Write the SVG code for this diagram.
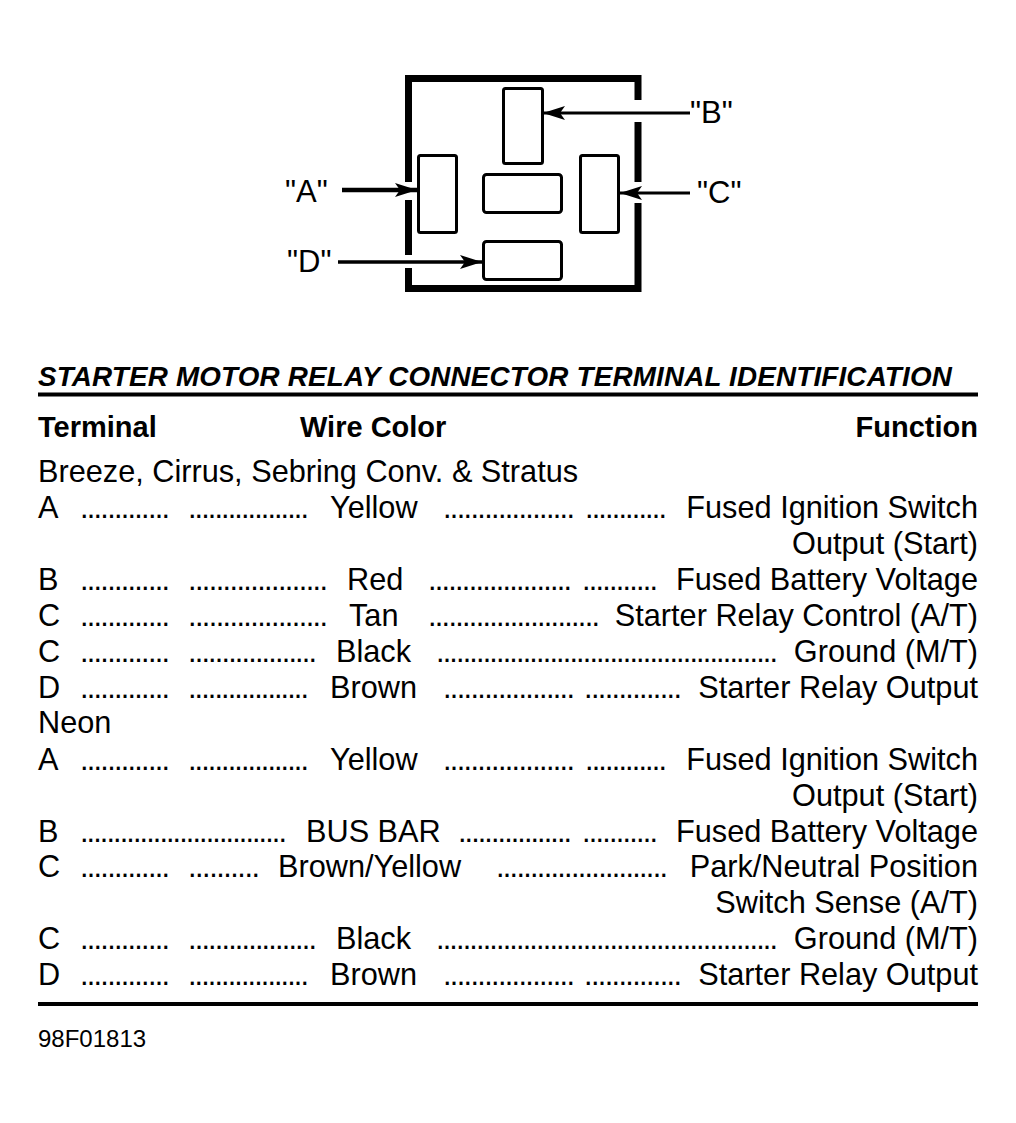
<svg xmlns="http://www.w3.org/2000/svg" width="1016" height="1123" viewBox="0 0 1016 1123">
<style>
text{font-family:"Liberation Sans",Arial,Helvetica,sans-serif;fill:#000}
.b{font-size:30.7px}
.lbl{font-size:31px}
.h{font-size:29px;font-weight:bold}
.t{font-size:27.8px;font-weight:bold;font-style:italic;letter-spacing:0.19px}
.r{text-anchor:end}
.term{fill:#fff;stroke:#000;stroke-width:3}
.conn{stroke:#000;fill:none}
</style>
<defs>
<marker id="ah" markerUnits="userSpaceOnUse" markerWidth="22" markerHeight="14" viewBox="0 0 22 14" refX="22" refY="7" orient="auto">
<path d="M0,0 L22,7 L0,14 L5,7 z" fill="#000"/>
</marker>
</defs>
<rect width="1016" height="1123" fill="#fff"/>

<g id="housing">
<path d="M408.5,182 V78.5 H638 V100 M638,122 V182 M638,203 V288.5 H408.5 V268 M408.5,255 V200" fill="none" stroke="#000" stroke-width="7" stroke-linejoin="miter"/>
</g>
<g id="terminal-B"><rect class="term" x="503.5" y="88.5" width="39" height="75" rx="2"/></g>
<g id="terminal-A"><rect class="term" x="418.5" y="155.5" width="38" height="77" rx="2"/></g>
<g id="terminal-center"><rect class="term" x="483.5" y="174.5" width="78" height="38" rx="3"/></g>
<g id="terminal-C"><rect class="term" x="580.5" y="155.5" width="38" height="77" rx="2"/></g>
<g id="terminal-D"><rect class="term" x="483.5" y="241.5" width="78" height="38" rx="3"/></g>

<g id="connectors">
<line class="conn" x1="690" y1="113" x2="543" y2="113" stroke-width="3" marker-end="url(#ah)"/>
<line class="conn" x1="690" y1="193" x2="620" y2="193" stroke-width="3" marker-end="url(#ah)"/>
<line class="conn" x1="342" y1="190" x2="417" y2="190" stroke-width="4.5" marker-end="url(#ah)"/>
<line class="conn" x1="338" y1="262" x2="482" y2="262" stroke-width="3.5" marker-end="url(#ah)"/>
</g>

<g id="labels">
<text class="lbl" x="690" y="123">"B"</text>
<text class="lbl" x="697" y="203">"C"</text>
<text class="lbl" x="285" y="202">"A"</text>
<text class="lbl" x="287" y="272">"D"</text>
</g>

<g id="table">
<text class="t" x="38" y="386">STARTER MOTOR RELAY CONNECTOR TERMINAL IDENTIFICATION</text>
<line x1="38" y1="394.5" x2="978" y2="394.5" stroke="#000" stroke-width="4"/>
<text class="h" x="38" y="437">Terminal</text>
<text class="h" x="300" y="437">Wire Color</text>
<text class="h r" x="978" y="437">Function</text>

<text class="b" x="38" y="482">Breeze, Cirrus, Sebring Conv. &amp; Stratus</text>

<g id="row-a1">
<text class="b" x="38" y="518">A</text>
<text class="b" x="80" y="518" textLength="90">.............</text>
<text class="b" x="188" y="518" textLength="121">..................</text>
<text class="b" x="330" y="518">Yellow</text>
<text class="b" x="443" y="518" textLength="132">...................</text>
<text class="b" x="585" y="518" textLength="82">............</text>
<text class="b r" x="978" y="518">Fused Ignition Switch</text>
<text class="b r" x="978" y="554">Output (Start)</text>
</g>
<g id="row-b1">
<text class="b" x="38" y="590">B</text>
<text class="b" x="80" y="590" textLength="90">.............</text>
<text class="b" x="188" y="590" textLength="140">....................</text>
<text class="b" x="347" y="590">Red</text>
<text class="b" x="428" y="590" textLength="144">.....................</text>
<text class="b" x="582" y="590" textLength="76">...........</text>
<text class="b r" x="978" y="590">Fused Battery Voltage</text>
</g>
<g id="row-c1">
<text class="b" x="38" y="626">C</text>
<text class="b" x="80" y="626" textLength="90">.............</text>
<text class="b" x="188" y="626" textLength="140">....................</text>
<text class="b" x="349" y="626">Tan</text>
<text class="b" x="428" y="626" textLength="172">.........................</text>
<text class="b r" x="978" y="626">Starter Relay Control (A/T)</text>
</g>
<g id="row-c2">
<text class="b" x="38" y="662">C</text>
<text class="b" x="80" y="662" textLength="90">.............</text>
<text class="b" x="188" y="662" textLength="129">...................</text>
<text class="b" x="336" y="662">Black</text>
<text class="b" x="436" y="662" textLength="342">...................................................</text>
<text class="b r" x="978" y="662">Ground (M/T)</text>
</g>
<g id="row-d1">
<text class="b" x="38" y="698">D</text>
<text class="b" x="80" y="698" textLength="90">.............</text>
<text class="b" x="188" y="698" textLength="121">..................</text>
<text class="b" x="330" y="698">Brown</text>
<text class="b" x="443" y="698" textLength="132">...................</text>
<text class="b" x="584" y="698" textLength="98">..............</text>
<text class="b r" x="978" y="698">Starter Relay Output</text>
</g>

<text class="b" x="38" y="733">Neon</text>

<g id="row-a2">
<text class="b" x="38" y="770">A</text>
<text class="b" x="80" y="770" textLength="90">.............</text>
<text class="b" x="188" y="770" textLength="121">..................</text>
<text class="b" x="330" y="770">Yellow</text>
<text class="b" x="443" y="770" textLength="132">...................</text>
<text class="b" x="585" y="770" textLength="82">............</text>
<text class="b r" x="978" y="770">Fused Ignition Switch</text>
<text class="b r" x="978" y="806">Output (Start)</text>
</g>
<g id="row-b2">
<text class="b" x="38" y="842">B</text>
<text class="b" x="80" y="842" textLength="207">...............................</text>
<text class="b" x="306" y="842">BUS BAR</text>
<text class="b" x="458" y="842" textLength="114">.................</text>
<text class="b" x="582" y="842" textLength="76">...........</text>
<text class="b r" x="978" y="842">Fused Battery Voltage</text>
</g>
<g id="row-c3">
<text class="b" x="38" y="877">C</text>
<text class="b" x="80" y="877" textLength="90">.............</text>
<text class="b" x="188" y="877" textLength="72">..........</text>
<text class="b" x="278" y="877">Brown/Yellow</text>
<text class="b" x="496" y="877" textLength="172">.........................</text>
<text class="b r" x="978" y="877">Park/Neutral Position</text>
<text class="b r" x="978" y="913">Switch Sense (A/T)</text>
</g>
<g id="row-c4">
<text class="b" x="38" y="949">C</text>
<text class="b" x="80" y="949" textLength="90">.............</text>
<text class="b" x="188" y="949" textLength="129">...................</text>
<text class="b" x="336" y="949">Black</text>
<text class="b" x="436" y="949" textLength="342">...................................................</text>
<text class="b r" x="978" y="949">Ground (M/T)</text>
</g>
<g id="row-d2">
<text class="b" x="38" y="985">D</text>
<text class="b" x="80" y="985" textLength="90">.............</text>
<text class="b" x="188" y="985" textLength="121">..................</text>
<text class="b" x="330" y="985">Brown</text>
<text class="b" x="443" y="985" textLength="132">...................</text>
<text class="b" x="584" y="985" textLength="98">..............</text>
<text class="b r" x="978" y="985">Starter Relay Output</text>
</g>

<line x1="38" y1="1004" x2="978" y2="1004" stroke="#000" stroke-width="4"/>
<text x="38" y="1047" style="font-size:24px">98F01813</text>
</g>
</svg>
